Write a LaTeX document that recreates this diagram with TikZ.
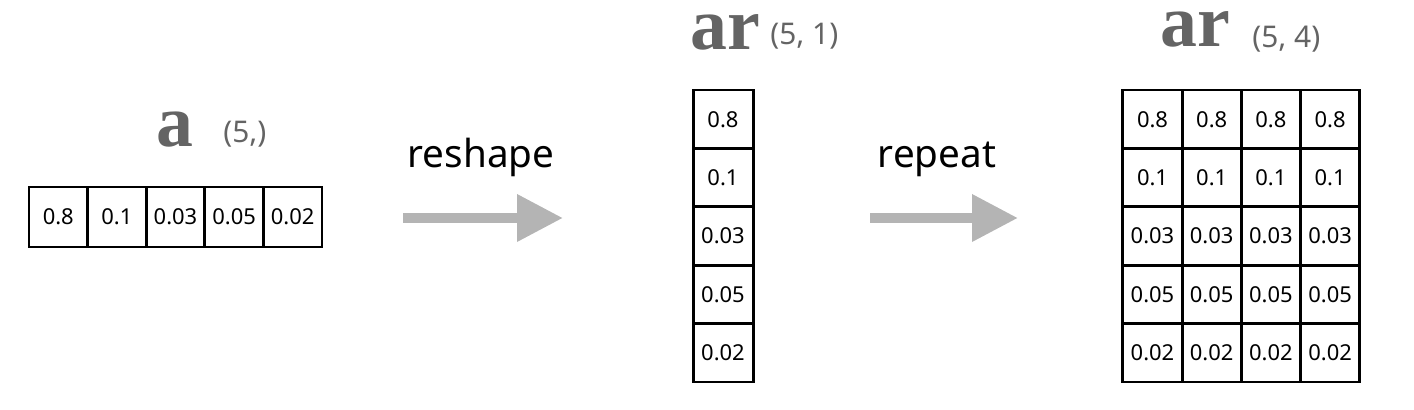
\documentclass[tikz,border=0pt]{standalone}
\usepackage{fontspec}
\setmainfont{Noto Sans}
\newfontfamily\namefont{Liberation Serif}
\usetikzlibrary{arrows.meta}
\definecolor{arrowGray}{RGB}{180,180,180}
\definecolor{nameGray}{RGB}{100,100,100}

\begin{document}
\begin{tikzpicture}[
  cell/.style={
    draw=black,
    line width=1.7pt,
    minimum width=1.18cm,
    minimum height=1.168cm,
    inner sep=0pt,
    font=\fontsize{12.5}{14}\selectfont,
  },
  arrname/.style={
    anchor=base,
    inner sep=0pt,
    text height=0.7cm,
    text depth=0pt,
    text=nameGray,
    font=\namefont\bfseries\fontsize{42}{42}\selectfont,
  },
  shp/.style={
    anchor=base west,
    inner sep=0pt,
    text=nameGray,
    font=\fontsize{17}{20}\selectfont,
  },
  op/.style={
    anchor=base,
    inner sep=0pt,
    font=\fontsize{22}{26}\selectfont,
  },
  bigarrow/.style={
    draw=arrowGray,
    line width=0.2cm,
    -{Triangle[length=0.92cm, width=0.9cm]},
  },
]
  \useasboundingbox (0,0) rectangle (28.28,8.2);

  % a (5,)
  \foreach \v [count=\i] in {0.8,0.1,0.03,0.05,0.02}
    \node[cell, minimum width=1.172cm, minimum height=1.2cm] (a\i)
      at ({-0.006+1.172*\i},3.86) {\v};
  \node[arrname] (na) at (3.5,5.26) {a};
  \node[shp] (sa) at (4.46,5.34) {(5,)};

  % reshape
  \coordinate (rsS) at (8.06,3.84);
  \coordinate (rsE) at (11.26,3.84);
  \draw[bigarrow] (rsS) -- (rsE);
  \node[op] (rs) at (9.62,4.84) {reshape};

  % ar (5, 1)
  \foreach \v [count=\i] in {0.8,0.1,0.03,0.05,0.02}
    \node[cell, minimum width=1.2cm] (c\i) at (14.46,{6.984-1.168*\i}) {\v};
  \node[arrname] (nc) at (14.5,7.2) {ar};
  \node[shp] (sc) at (15.4,7.3) {(5, 1)};

  % repeat
  \coordinate (rpS) at (17.4,3.84);
  \coordinate (rpE) at (20.36,3.84);
  \draw[bigarrow] (rpS) -- (rpE);
  \node[op] (rp) at (18.74,4.84) {repeat};

  % ar (5, 4)
  \foreach \v [count=\i] in {0.8,0.1,0.03,0.05,0.02}
    \foreach \j in {1,...,4}
      \node[cell, minimum width=1.184cm] (g\i-\j)
        at ({21.866+1.184*\j},{6.984-1.168*\i}) {\v};
  \node[arrname] (ng) at (23.9,7.26) {ar};
  \node[shp] (sg) at (25.04,7.24) {(5, 4)};

\end{tikzpicture}
\end{document}
